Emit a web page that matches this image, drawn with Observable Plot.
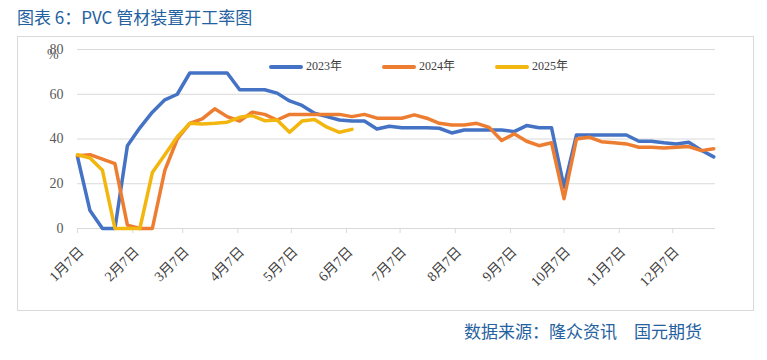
<!DOCTYPE html>
<html><head><meta charset="utf-8">
<script src="https://cdn.jsdelivr.net/npm/d3@7"></script>
<script src="https://cdn.jsdelivr.net/npm/@observablehq/plot@0.6"></script>
<style>
body{margin:0;background:#fff;width:767px;height:360px;position:relative;overflow:hidden;}
.cn{font-family:"Noto Sans CJK SC",sans-serif;color:#2461a0;font-size:17px;position:absolute;white-space:nowrap;}
.leg{position:absolute;font-family:"Liberation Serif","Noto Sans CJK SC",serif;font-size:12px;color:#404040;white-space:nowrap;}
.leg i{display:inline-block;width:34px;height:4px;border-radius:2px;vertical-align:middle;margin-right:3px;}
</style></head>
<body>
<div class="cn" style="left:17px;top:6px;line-height:22px;">图表 6：PVC 管材装置开工率图</div>
<div style="position:absolute;left:17px;top:36px;width:737px;height:275px;border:1px solid #d9d9d9;box-sizing:border-box;"></div>
<div id="chart" style="position:absolute;left:0;top:36px;"></div>
<div id="legend"></div>
<div class="leg" style="left:47px;top:47px;font-size:14px;color:#595959;">%</div>
<div class="cn" style="left:464px;top:320px;line-height:22px;">数据来源：隆众资讯&#12288;国元期货</div>
<script>
// categories: weekly observation dates (plotted on one calendar year)
const weeks = d3.utcSaturday.range(new Date(Date.UTC(2023,0,7)), new Date(Date.UTC(2023,11,31)));
const seriesNames = ["2023年","2024年","2025年"];
const seriesColors = ["#4472C4","#ED7D31","#F2B60F"];
const s2023 = [32,8,0,0,37,45,52,57.5,60,69.5,69.5,69.5,69.5,62,62,62,60.5,57,55,51.5,50,48.5,48,48,44.5,45.7,45,45,45,44.8,42.7,44,44,44,44,43.3,46,45,45,18.5,41.8,41.8,41.8,41.8,41.8,39,39,38.3,37.8,38.5,35,32];
const s2024 = [32.5,33,31,29,1.5,0,0,26,40,47,49,53.5,50,48,52,51,48.5,51,51,51,51,51,50,51,49.3,49.3,49.3,50.8,49.3,47,46.3,46.3,47,45.2,39.3,42.3,39,37,38.3,13.3,40,40.8,38.8,38.3,37.8,36.3,36.3,36,36.3,36.6,34.8,35.6];
const s2025 = [33,31.5,26,0,0,0,25,33,41,47,46.7,47,47.5,49.7,50.5,48.2,48.5,43,48,48.7,45.3,43,44.3];
const yTicks = [0,20,40,60,80];
const xTickDates = d3.range(12).map(m => new Date(Date.UTC(2023,m,7)));
const xTickLabels = ["1月7日","2月7日","3月7日","4月7日","5月7日","6月7日","7月7日","8月7日","9月7日","10月7日","11月7日","12月7日"];

const seriesValues = [s2023, s2024, s2025];
const data = seriesValues.flatMap((vals, k) => vals.map((v, i) => ({date: weeks[i], value: v, series: seriesNames[k]})));

const chart = Plot.plot({
  width: 767, height: 275,
  marginLeft: 77, marginRight: 52, marginTop: 13, marginBottom: 83,
  style: {fontFamily: "'Liberation Serif','Noto Sans CJK SC',serif", background: "transparent"},
  x: {type: "utc", domain: [new Date(Date.UTC(2023,0,7)), new Date(Date.UTC(2023,11,31))]},
  y: {domain: [0, 80]},
  color: {domain: seriesNames, range: seriesColors},
  marks: [
    Plot.gridY(yTicks, {stroke: "#d9d9d9", strokeOpacity: 1, strokeWidth: 1}),
    Plot.axisY(yTicks, {tickSize: 0, tickPadding: 14, fontSize: 14, fill: "#595959", label: null}),
    Plot.axisX(xTickDates, {tickSize: 5, stroke: "#d9d9d9", strokeOpacity: 1, label: null, tickFormat: () => ""}),
    Plot.axisX(xTickDates, {tickFormat: (d, i) => xTickLabels[i], tickRotate: -45, tickSize: 0, tickPadding: 21, dx: 4,
      fill: "#404040", fontSize: 14, label: null}),
    Plot.line(data, {x: "date", y: "value", z: "series", stroke: "series", strokeWidth: 3.5, strokeLinejoin: "round"})
  ]
});
document.getElementById("chart").appendChild(chart);

const legPos = [269, 382, 495];
document.getElementById("legend").innerHTML = seriesNames.map((n, k) =>
  `<div class="leg" style="left:${legPos[k]}px;top:56px;"><i style="background:${seriesColors[k]}"></i>${n}</div>`).join("");
</script>
</body></html>
